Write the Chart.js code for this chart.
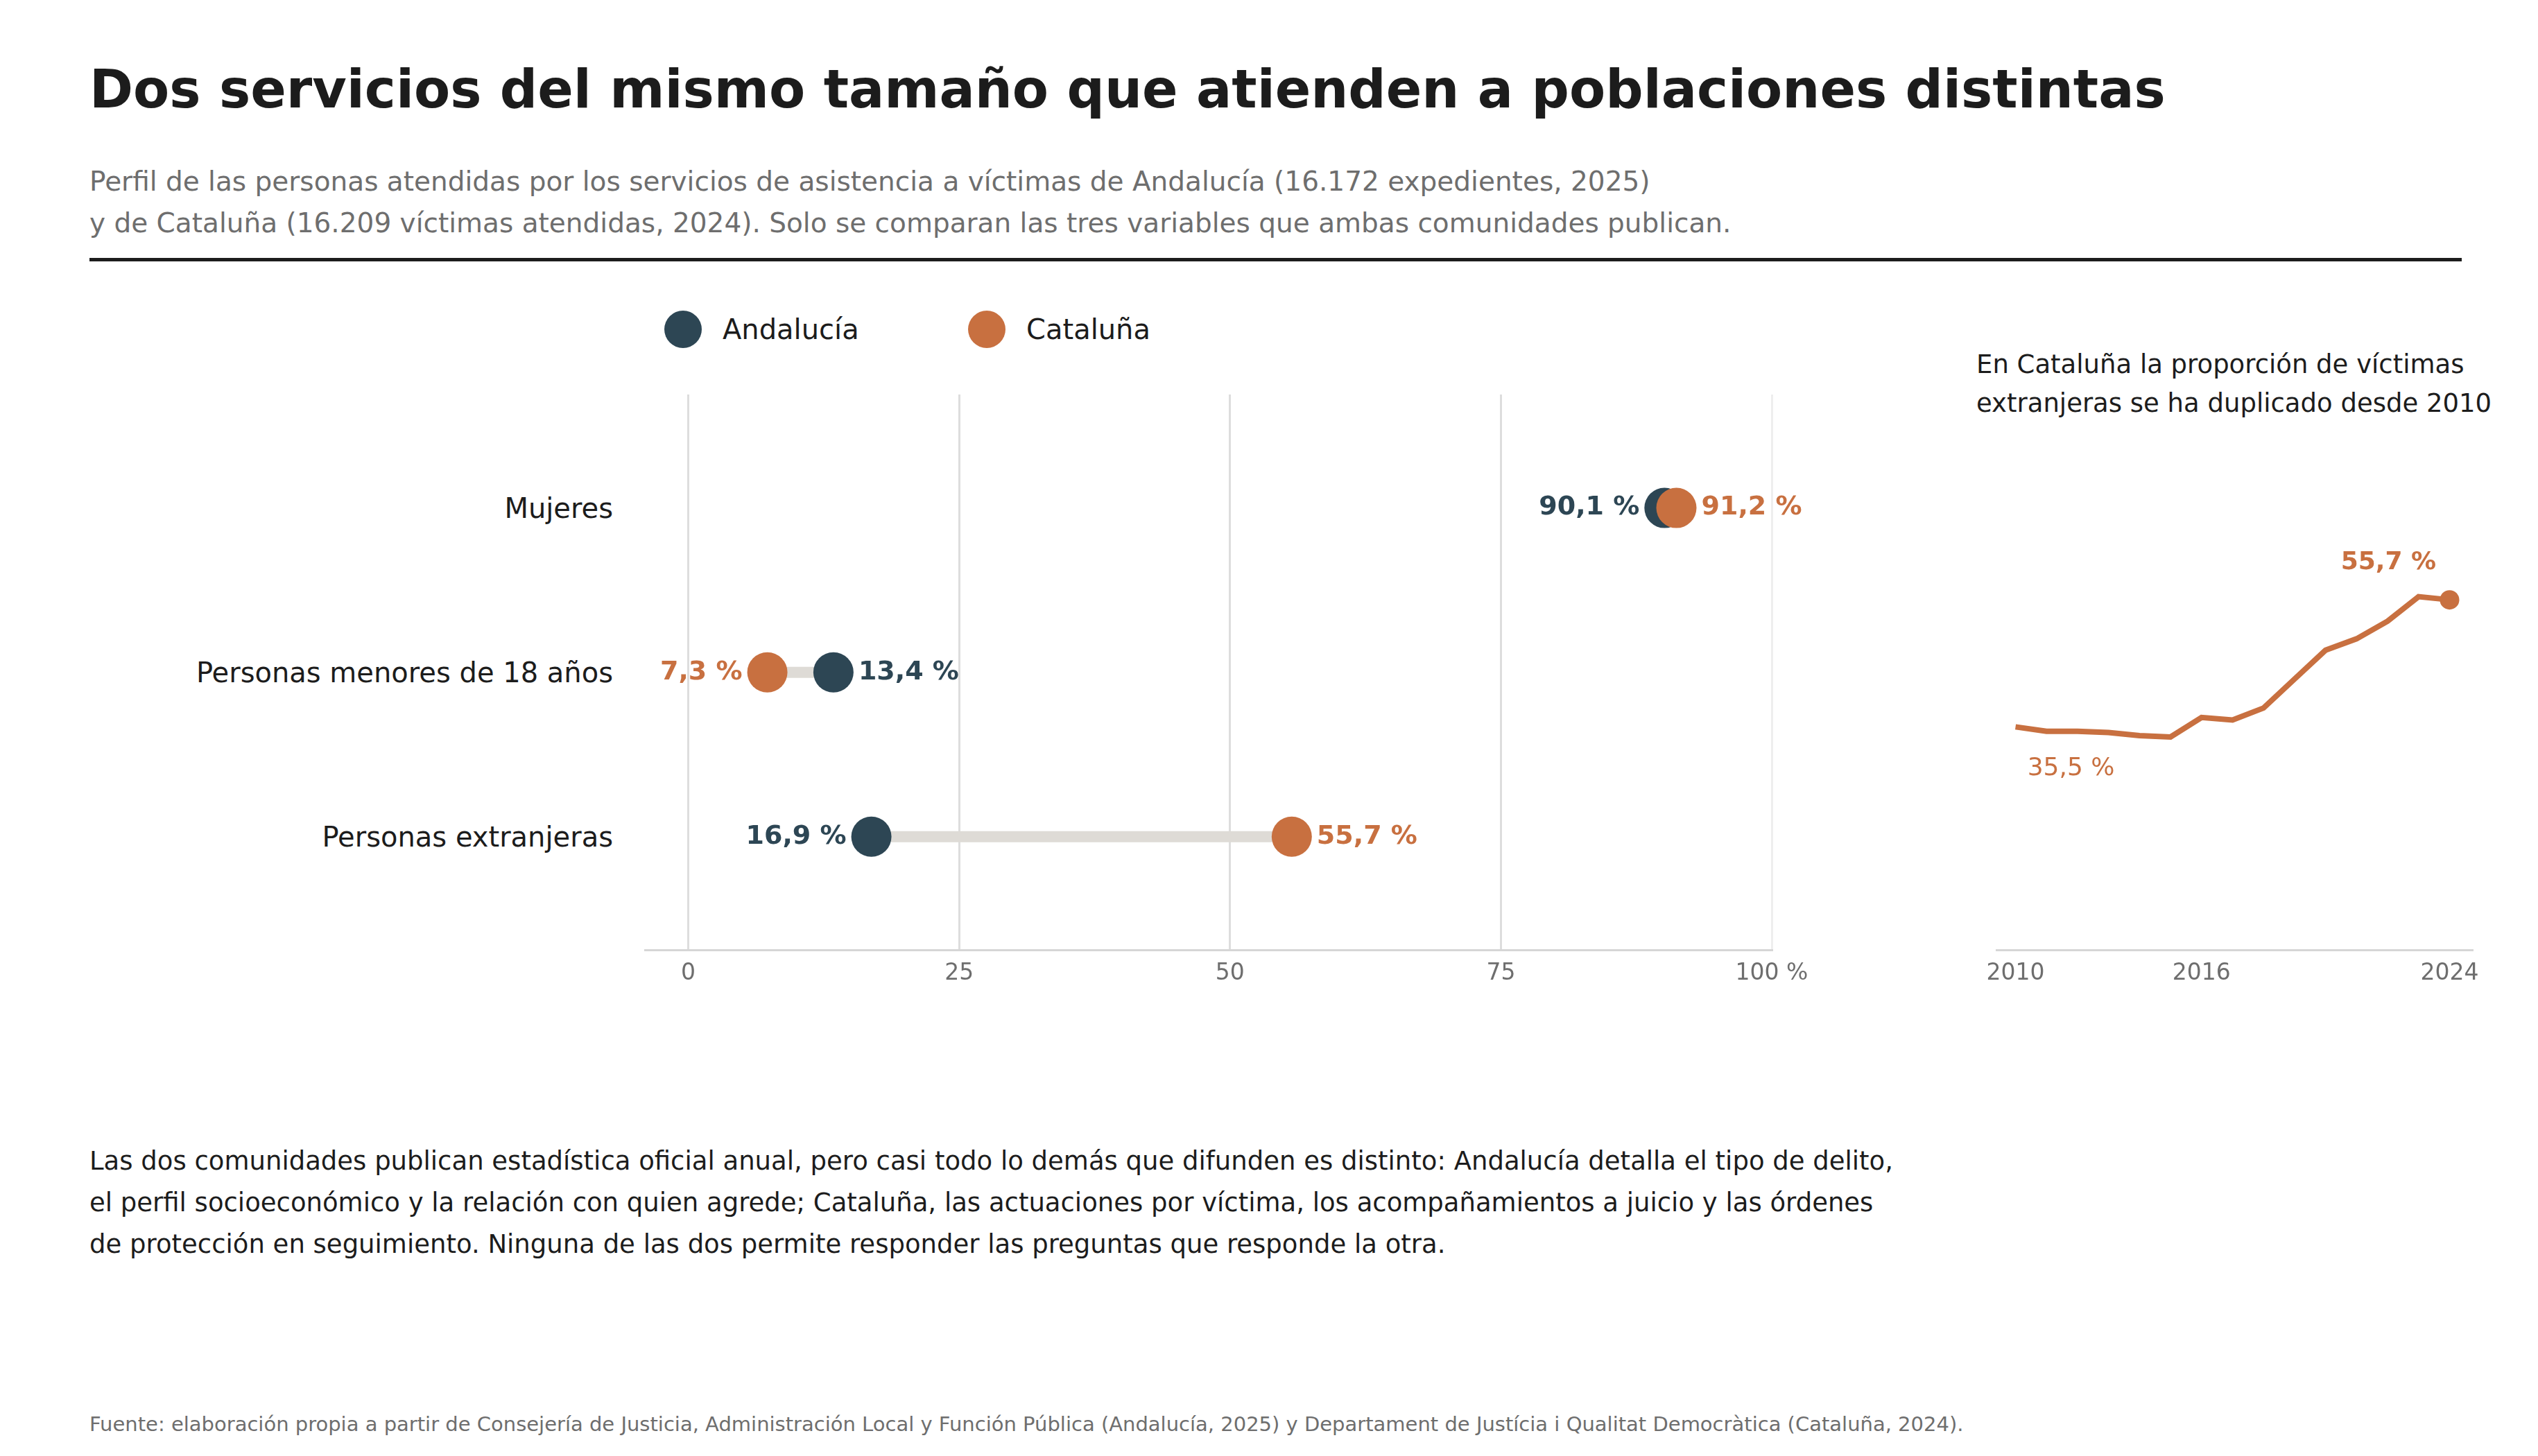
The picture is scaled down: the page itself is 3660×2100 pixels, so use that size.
<!DOCTYPE html>
<html><head><meta charset="utf-8">
<script src="https://cdn.jsdelivr.net/npm/chart.js@4/dist/chart.umd.min.js"></script>
<style>
  body { margin:0; width:3660px; height:2100px; background:#fff; font-family:"DejaVu Sans", sans-serif; position:relative; overflow:hidden; }
  .abs { position:absolute; }
  h1 { position:absolute; left:129px; top:84px; margin:0; font-size:76px; font-weight:bold; color:#1c1c1c; }
  .sub { left:129px; top:232px; font-size:39px; line-height:60px; color:#6e6e6e; }
  .rule { left:129px; top:372px; width:3421px; height:5px; background:#1c1c1c; }
  .leg { top:448px; font-size:40px; color:#1c1c1c; display:flex; align-items:center; }
  .leg i { display:inline-block; width:54px; height:54px; border-radius:50%; margin-right:30px; }
  .row { right:2776px; font-size:40px; color:#1c1c1c; transform:translateY(-50%); }
  .side { left:2850px; top:498px; font-size:37px; line-height:56px; color:#1c1c1c; }
  .para { left:129px; top:1645px; width:2820px; font-size:37px; line-height:60px; color:#1c1c1c; }
  .src { left:129px; top:2037px; font-size:29px; color:#6e6e6e; }
</style></head>
<body>
<h1>Dos servicios del mismo tamaño que atienden a poblaciones distintas</h1>
<div class="abs sub">Perfil de las personas atendidas por los servicios de asistencia a víctimas de Andalucía (16.172 expedientes, 2025)<br>y de Cataluña (16.209 víctimas atendidas, 2024). Solo se comparan las tres variables que ambas comunidades publican.</div>
<div class="abs rule"></div>
<div class="abs leg" style="left:958px"><i style="background:#2d4654"></i>Andalucía</div>
<div class="abs leg" style="left:1396px"><i style="background:#c87040"></i>Cataluña</div>
<div id="rows"></div>
<div class="abs side">En Cataluña la proporción de víctimas<br>extranjeras se ha duplicado desde 2010</div>
<div class="abs" style="left:901px;top:540px;width:1734px;height:898px"><canvas id="main"></canvas></div>
<div class="abs" style="left:2850px;top:540px;width:780px;height:898px"><canvas id="trend"></canvas></div>
<div class="abs para">Las dos comunidades publican estadística oficial anual, pero casi todo lo demás que difunden es distinto: Andalucía detalla el tipo de delito,<br>el perfil socioeconómico y la relación con quien agrede; Cataluña, las actuaciones por víctima, los acompañamientos a juicio y las órdenes<br>de protección en seguimiento. Ninguna de las dos permite responder las preguntas que responde la otra.</div>
<div class="abs src">Fuente: elaboración propia a partir de Consejería de Justicia, Administración Local y Función Pública (Andalucía, 2025) y Departament de Justícia i Qualitat Democràtica (Cataluña, 2024).</div>
<script>
const categories = ['Mujeres', 'Personas menores de 18 años', 'Personas extranjeras'];
const andalucia = [90.1, 13.4, 16.9];
const cataluna = [91.2, 7.3, 55.7];
const xTicks = [0, 25, 50, 75, 100];
const years = [2010,2011,2012,2013,2014,2015,2016,2017,2018,2019,2020,2021,2022,2023,2024];
const foreignCat = [35.5,34.8,34.8,34.6,34.1,33.9,37.0,36.6,38.5,43.1,47.7,49.5,52.3,56.2,55.7];
const trendTicks = [2010, 2016, 2024];

const DARK = '#2d4654', ORANGE = '#c87040', GREY = '#dedbd6';
const fmt = v => v.toFixed(1).replace('.', ',') + ' %';

const font = { family: 'DejaVu Sans', size: 33 };
Chart.defaults.font.family = 'DejaVu Sans';

// ── etiquetas de fila (posición vía escala) ──
function placeRows(chart) {
  const y = chart.scales.y, top = 540;
  document.getElementById('rows').innerHTML = categories.map((c, i) =>
    `<div class="abs row" style="top:${top + y.getPixelForValue(i)}px">${c}</div>`).join('');
}

const valueLabels = {
  id: 'valueLabels',
  afterDatasetsDraw(chart) {
    const { ctx, scales: { x, y } } = chart;
    ctx.save();
    ctx.font = 'bold 38px DejaVu Sans';
    ctx.textBaseline = 'middle';
    categories.forEach((c, i) => {
      const a = andalucia[i], b = cataluna[i], py = y.getPixelForValue(i);
      const aLeft = a < b;
      [[a, DARK, aLeft], [b, ORANGE, !aLeft]].forEach(([v, col, left]) => {
        ctx.fillStyle = col;
        ctx.textAlign = left ? 'right' : 'left';
        ctx.fillText(fmt(v), x.getPixelForValue(v) + (left ? -36 : 36), py);
      });
    });
    ctx.restore();
    placeRows(chart);
  }
};

const segments = categories.map((c, i) => ({
  type: 'line',
  data: [{ x: andalucia[i], y: i }, { x: cataluna[i], y: i }],
  borderColor: GREY, borderWidth: 16, pointRadius: 0, order: 3
}));

new Chart(document.getElementById('main'), {
  type: 'scatter',
  data: {
    datasets: [
      ...segments,
      { label: 'Andalucía', data: andalucia.map((v, i) => ({ x: v, y: i })), backgroundColor: DARK, pointRadius: 29, pointHoverRadius: 29, borderWidth: 0, order: 2 },
      { label: 'Cataluña', data: cataluna.map((v, i) => ({ x: v, y: i })), backgroundColor: ORANGE, pointRadius: 29, pointHoverRadius: 29, borderWidth: 0, order: 1 }
    ]
  },
  options: {
    responsive: true, maintainAspectRatio: false, animation: false,
    layout: { padding: { left: 0, right: 80, top: 0, bottom: 0 } },
    plugins: { legend: { display: false }, tooltip: { enabled: false } },
    scales: {
      x: {
        min: -4, max: 100,
        afterBuildTicks: s => { s.ticks = xTicks.map(v => ({ value: v })); },
        grid: { color: ctx => ctx.tick && ctx.tick.value === 100 ? '#eeeeee' : '#dddddd', lineWidth: 3, drawTicks: false },
        border: { color: '#d6d6d6', width: 3 },
        ticks: { font, color: '#6e6e6e', padding: 14, callback: v => v === 100 ? '100 %' : v }
      },
      y: { min: -0.69, max: 2.69, reverse: true, display: false }
    }
  },
  plugins: [valueLabels]
});

// ── serie temporal ──
const trendLabels = {
  id: 'trendLabels',
  afterDatasetsDraw(chart) {
    const { ctx, scales: { x, y } } = chart;
    const n = years.length - 1;
    ctx.save();
    ctx.fillStyle = ORANGE;
    ctx.textAlign = 'center';
    ctx.font = 'bold 36px DejaVu Sans';
    ctx.fillText(fmt(foreignCat[n]), x.getPixelForValue(years[n]) - 88, y.getPixelForValue(foreignCat[n]) - 44);
    ctx.font = '36px DejaVu Sans';
    ctx.fillText(fmt(foreignCat[0]), x.getPixelForValue(years[0]) + 80, y.getPixelForValue(foreignCat[0]) + 70);
    ctx.restore();
  }
};

new Chart(document.getElementById('trend'), {
  type: 'line',
  data: {
    labels: years,
    datasets: [{
      data: years.map((yr, i) => ({ x: yr, y: foreignCat[i] })),
      borderColor: ORANGE, backgroundColor: ORANGE, borderWidth: 8, tension: 0,
      pointRadius: years.map((_, i) => i === years.length - 1 ? 14 : 0), pointBorderWidth: 0
    }]
  },
  options: {
    responsive: true, maintainAspectRatio: false, animation: false,
    layout: { padding: { left: 0, right: 64, top: 0, bottom: 0 } },
    plugins: { legend: { display: false }, tooltip: { enabled: false } },
    scales: {
      x: {
        type: 'linear', min: 2009.4, max: 2024.75,
        afterBuildTicks: s => { s.ticks = trendTicks.map(v => ({ value: v })); },
        grid: { display: false, drawTicks: false },
        border: { color: '#d6d6d6', width: 3 },
        ticks: { font, color: '#6e6e6e', padding: 14, callback: v => String(v) }
      },
      y: { min: 0, max: 90, display: false }
    }
  },
  plugins: [trendLabels]
});
</script>
</body></html>
